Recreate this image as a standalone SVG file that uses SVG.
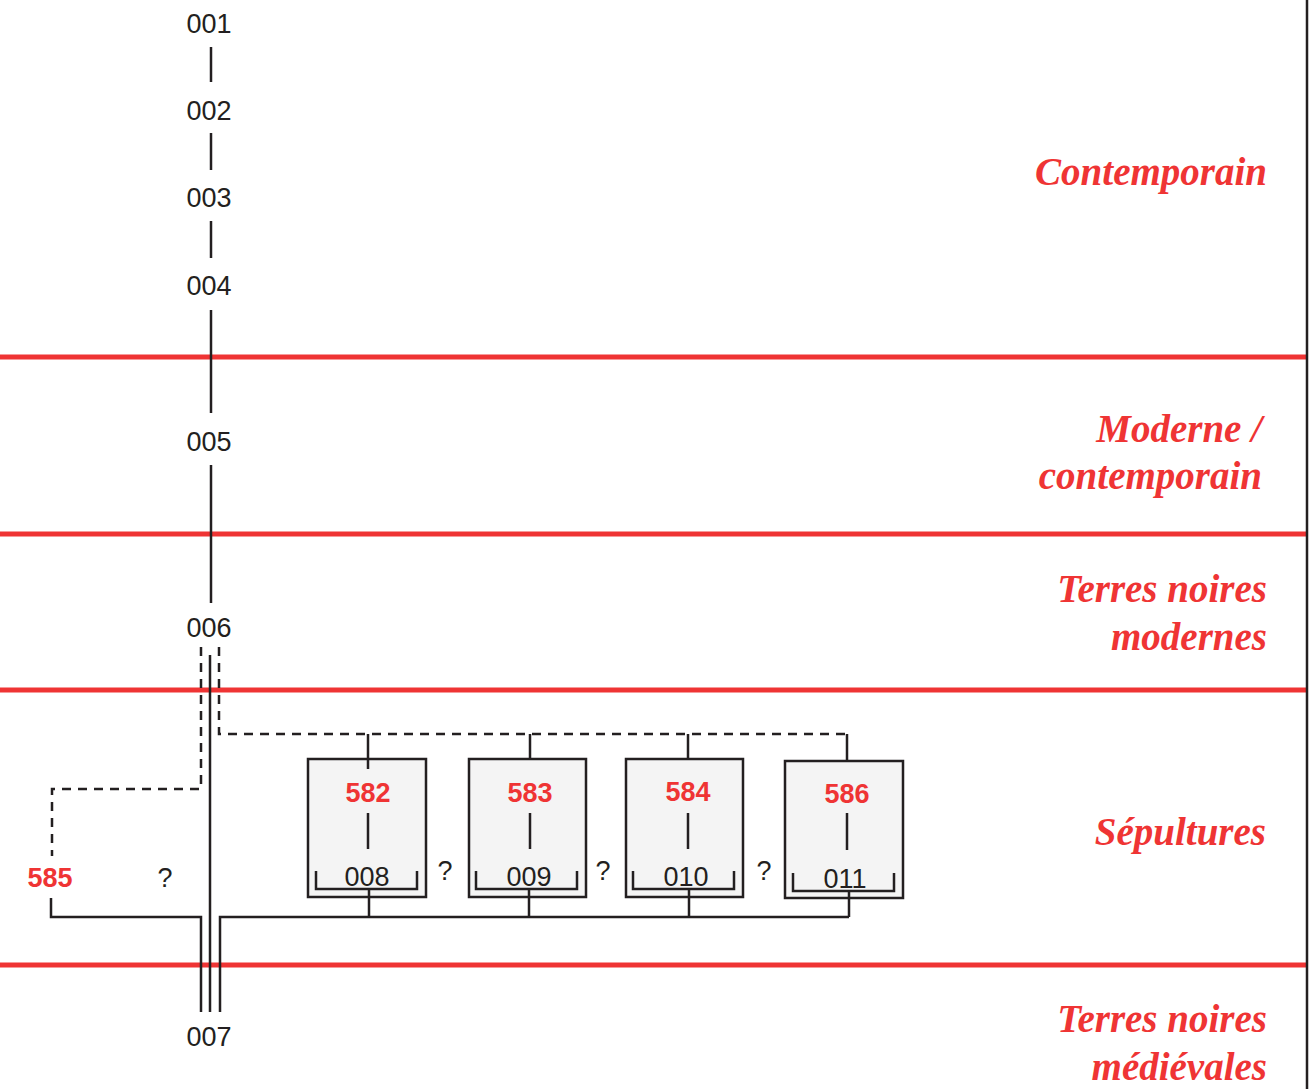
<svg xmlns="http://www.w3.org/2000/svg" width="1310" height="1089" viewBox="0 0 1310 1089">
<style>
.lbl{font-family:"Liberation Sans",Arial,sans-serif;font-size:27px;fill:#231f20;text-anchor:middle}
.red{font-family:"Liberation Sans",Arial,sans-serif;font-size:27px;font-weight:bold;fill:#ef3434;text-anchor:middle}
.per{font-family:"Liberation Serif","Times New Roman",serif;font-size:39px;font-weight:bold;font-style:italic;fill:#ef3434;text-anchor:end}
.ln{stroke:#231f20;stroke-width:2.5;fill:none}
.dash{stroke:#231f20;stroke-width:2.5;fill:none;stroke-dasharray:9,7}
.box{fill:#f4f4f4;stroke:#231f20;stroke-width:2.5}
.band{stroke:#ef3434;stroke-width:5}
</style>
<rect width="1310" height="1089" fill="#ffffff"/>
<g id="periods">
<line class="band" x1="0" y1="357" x2="1307" y2="357"/>
<line class="band" x1="0" y1="534" x2="1307" y2="534"/>
<line class="band" x1="0" y1="690" x2="1307" y2="690"/>
<line class="band" x1="0" y1="965" x2="1307" y2="965"/>
<line x1="1307" y1="0" x2="1307" y2="1089" stroke="#231f20" stroke-width="2.5"/>
<text class="per" x="1267" y="185">Contemporain</text>
<text class="per" x="1262" y="442">Moderne /</text>
<text class="per" x="1262" y="489">contemporain</text>
<text class="per" x="1267" y="602">Terres noires</text>
<text class="per" x="1267" y="650">modernes</text>
<text class="per" x="1266" y="845">Sépultures</text>
<text class="per" x="1267" y="1032">Terres noires</text>
<text class="per" x="1267" y="1080">médiévales</text>
</g>
<g id="connectors">
<line class="ln" x1="211" y1="47" x2="211" y2="82"/>
<line class="ln" x1="211" y1="133" x2="211" y2="170"/>
<line class="ln" x1="211" y1="221" x2="211" y2="258"/>
<line class="ln" x1="211" y1="310" x2="211" y2="413"/>
<line class="ln" x1="211" y1="465" x2="211" y2="603"/>
<line class="ln" x1="210" y1="655" x2="210" y2="1012"/>
<polyline class="dash" points="201,647 201,789 52,789 52,856"/>
<polyline class="dash" points="219,647 219,734 847,734"/>
<polyline class="ln" points="51,898 51,917 201,917 201,1012"/>
<polyline class="ln" points="220,1012 220,917 849,917"/>
<line class="ln" x1="368" y1="734" x2="368" y2="769"/>
<line class="ln" x1="530" y1="734" x2="530" y2="769"/>
<line class="ln" x1="688" y1="734" x2="688" y2="769"/>
<line class="ln" x1="847" y1="734" x2="847" y2="771"/>
</g>
<g id="n001"><text class="lbl" x="209" y="33">001</text></g>
<g id="n002"><text class="lbl" x="209" y="120">002</text></g>
<g id="n003"><text class="lbl" x="209" y="207">003</text></g>
<g id="n004"><text class="lbl" x="209" y="295">004</text></g>
<g id="n005"><text class="lbl" x="209" y="451">005</text></g>
<g id="n006"><text class="lbl" x="209" y="637">006</text></g>
<g id="n007"><text class="lbl" x="209" y="1046">007</text></g>
<g id="n585"><text class="red" x="50" y="887">585</text></g>
<g id="q1"><text class="lbl" x="165" y="887">?</text></g>
<g id="n582">
<rect class="box" x="308" y="759" width="118" height="138"/>
<line class="ln" x1="368" y1="769" x2="368" y2="759"/>
<text class="red" x="368" y="802">582</text>
<line class="ln" x1="368" y1="813" x2="368" y2="849"/>
<text class="lbl" x="367" y="886">008</text>
<polyline class="ln" points="316,871 316,889 417,889 417,871"/>
<line class="ln" x1="369" y1="889" x2="369" y2="917"/>
</g>
<g id="q2"><text class="lbl" x="445" y="880">?</text></g>
<g id="n583">
<rect class="box" x="469" y="759" width="117" height="138"/>
<text class="red" x="530" y="802">583</text>
<line class="ln" x1="530" y1="813" x2="530" y2="849"/>
<text class="lbl" x="529" y="886">009</text>
<polyline class="ln" points="476,871 476,889 577,889 577,871"/>
<line class="ln" x1="529" y1="889" x2="529" y2="917"/>
</g>
<g id="q3"><text class="lbl" x="603" y="880">?</text></g>
<g id="n584">
<rect class="box" x="626" y="759" width="117" height="138"/>
<text class="red" x="688" y="801">584</text>
<line class="ln" x1="688" y1="813" x2="688" y2="849"/>
<text class="lbl" x="686" y="886">010</text>
<polyline class="ln" points="633,871 633,889 734,889 734,871"/>
<line class="ln" x1="689" y1="889" x2="689" y2="917"/>
</g>
<g id="q4"><text class="lbl" x="764" y="880">?</text></g>
<g id="n586">
<rect class="box" x="785" y="761" width="118" height="137"/>
<text class="red" x="847" y="803">586</text>
<line class="ln" x1="847" y1="813" x2="847" y2="850"/>
<text class="lbl" x="845" y="888">011</text>
<polyline class="ln" points="793,873 793,891 894,891 894,873"/>
<line class="ln" x1="849" y1="891" x2="849" y2="917"/>
</g>
</svg>
